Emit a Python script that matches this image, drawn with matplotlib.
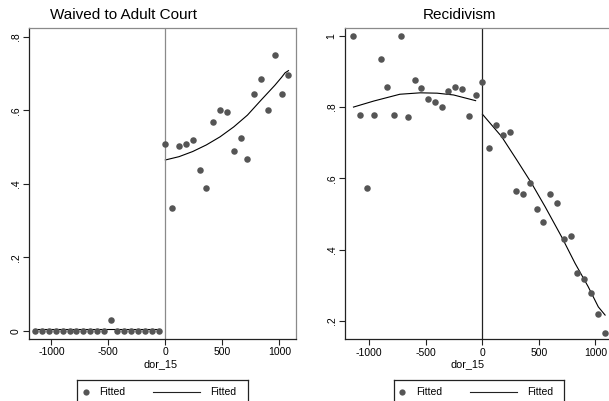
import numpy as np
import matplotlib.pyplot as plt
from matplotlib.lines import Line2D

plt.rcParams['font.family'] = ['Liberation Sans', 'DejaVu Sans']

# bins of dor_15 (60-day bins)
bins_neg = np.arange(-1140, 0, 60)
bins_pos = np.arange(0, 1140, 60)

# Waived to adult court: binned means
waived_neg = [0, 0, 0, 0, 0, 0, 0, 0, 0, 0, 0, 0.030, 0, 0, 0, 0, 0, 0, 0]
waived_pos = [0.509, 0.334, 0.502, 0.508, 0.520, 0.437, 0.390, 0.567, 0.601,
              0.596, 0.489, 0.524, 0.467, 0.644, 0.686, 0.602, 0.751, 0.645, 0.696]

# fitted values
waived_fit_neg_x = [-1140, -600, -60]
waived_fit_neg = [0.004, 0.004, 0.004]
waived_fit_pos_x = [0, 120, 240, 360, 480, 600, 720, 840, 960, 1020, 1050, 1080]
waived_fit_pos = [0.465, 0.474, 0.488, 0.506, 0.528, 0.555, 0.587, 0.628, 0.668,
                  0.690, 0.702, 0.708]

# Recidivism: binned means
recid_neg = [1.000, 0.778, 0.572, 0.778, 0.934, 0.857, 0.778, 1.000, 0.773, 0.875,
             0.854, 0.823, 0.814, 0.800, 0.845, 0.857, 0.851, 0.776, 0.833]
recid_pos = [0.870, 0.686, 0.751, 0.721, 0.729, 0.565, 0.557, 0.588, 0.513, 0.476,
             0.556, 0.531, 0.431, 0.439, 0.334, 0.316, 0.277, 0.218, 0.167]

recid_fit_neg_x = [-1140, -960, -730, -550, -400, -255, -60]
recid_fit_neg = [0.800, 0.817, 0.836, 0.840, 0.839, 0.834, 0.818]
recid_fit_pos_x = [0, 170, 305, 435, 555, 700, 820, 935, 1025, 1085]
recid_fit_pos = [0.780, 0.717, 0.651, 0.586, 0.520, 0.436, 0.361, 0.296, 0.239, 0.216]

W, H = 609, 401
fig = plt.figure(figsize=(W / 100, H / 100), dpi=100)

dot = '#555555'
dark = '#222222'
grey = '#8a8a8a'


def style_axes(ax, yticks, ylabels):
    for s in ['left', 'bottom']:
        ax.spines[s].set_color(dark)
    for s in ['top', 'right']:
        ax.spines[s].set_color(grey)
    for s in ax.spines.values():
        s.set_linewidth(0.9)
    ax.set_xticks([-1000, -500, 0, 500, 1000])
    ax.set_xticklabels(['-1000', '-500', '0', '500', '1000'])
    ax.set_yticks(yticks)
    ax.set_yticklabels(ylabels, rotation=90, va='center')
    ax.tick_params(direction='out', length=4, width=0.8, labelsize=7.5, pad=2,
                   color=dark)
    ax.set_xlabel('dor_15', fontsize=7.8, labelpad=2)


# left panel
ax1 = fig.add_axes([29 / W, 1 - 339 / H, 267 / W, 311 / H])
ax1.scatter(bins_neg, waived_neg, s=22, color=dot, lw=0, zorder=3)
ax1.scatter(bins_pos, waived_pos, s=22, color=dot, lw=0, zorder=3)
ax1.plot(waived_fit_neg_x, waived_fit_neg, color='black', lw=0.8)
ax1.plot(waived_fit_pos_x, waived_fit_pos, color='black', lw=0.8)
ax1.axvline(0, color=grey, lw=0.9)
ax1.set_xlim(-1196, 1146)
ax1.set_ylim(-0.022, 0.824)
style_axes(ax1, [0, 0.2, 0.4, 0.6, 0.8], ['0', '.2', '.4', '.6', '.8'])

# right panel (right edge runs off the figure)
ax2 = fig.add_axes([345 / W, 1 - 339.3 / H, 267 / W, 311.3 / H])
ax2.scatter(bins_neg, recid_neg, s=22, color=dot, lw=0, zorder=3)
ax2.scatter(bins_pos, recid_pos, s=22, color=dot, lw=0, zorder=3)
ax2.plot(recid_fit_neg_x, recid_fit_neg, color='black', lw=0.8)
ax2.plot(recid_fit_pos_x, recid_fit_pos, color='black', lw=0.8)
ax2.axvline(0, color=dark, lw=0.9)
ax2.set_xlim(-1215, 1146)
ax2.set_ylim(0.148, 1.022)
style_axes(ax2, [0.2, 0.4, 0.6, 0.8, 1.0], ['.2', '.4', '.6', '.8', '1'])
ax2.xaxis.set_label_coords((468 - 345) / 267, -0.065)
ax1.xaxis.set_label_coords((161 - 29) / 267, -0.065)

fig.text(123 / W, 1 - 15 / H, 'Waived to Adult Court', ha='center', va='center',
         fontsize=11)
fig.text(460 / W, 1 - 15 / H, 'Recidivism', ha='center', va='center', fontsize=11)


# legend boxes, bottom edge falls below the figure
def legend_box(x0, x1, mx, tx1, lx0, lx1, tx2):
    lg = fig.add_axes([x0 / W, 1 - 406 / H, (x1 - x0) / W, 26 / H])
    lg.set_xlim(x0, x1)
    lg.set_ylim(406, 380)
    lg.set_xticks([])
    lg.set_yticks([])
    for s in lg.spines.values():
        s.set_color(dark)
        s.set_linewidth(0.9)
    y = 391.7
    lg.plot([mx], [y], 'o', color=dot, ms=4.5, mew=0)
    lg.text(tx1, y, 'Fitted', fontsize=7.5, va='center', ha='left')
    lg.plot([lx0, lx1], [y, y], color=dark, lw=0.8)
    lg.text(tx2, y, 'Fitted', fontsize=7.5, va='center', ha='left')


legend_box(77, 248, 86, 99, 153, 200, 210)
legend_box(394, 564, 402, 416, 470, 517, 527)

fig.savefig('out.png', dpi=100)
